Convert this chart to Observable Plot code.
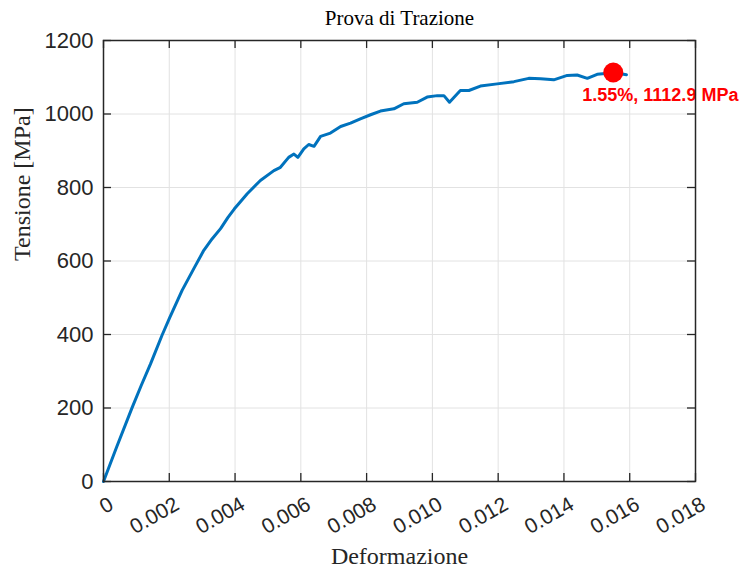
<!DOCTYPE html>
<html>
<head>
<meta charset="utf-8">
<script src="https://cdn.jsdelivr.net/npm/d3@7"></script>
<script src="https://cdn.jsdelivr.net/npm/@observablehq/plot@0.6"></script>
<style>
  html, body { margin: 0; padding: 0; background: #fff; }
</style>
</head>
<body>
<div id="chart"></div>
<script>
// ---- data ----
const strain = [0, 0.0004, 0.00087, 0.00115, 0.00143, 0.00178, 0.00201, 0.00239, 0.00275, 0.00305, 0.00330, 0.00356, 0.00378, 0.00398, 0.00415, 0.00437, 0.00477, 0.00518, 0.00538, 0.00563, 0.00579, 0.00591, 0.00609, 0.00624, 0.00640, 0.00660, 0.00690, 0.00721, 0.00751, 0.00781, 0.00812, 0.00842, 0.00883, 0.00913, 0.00954, 0.00984, 0.01015, 0.01035, 0.01052, 0.01085, 0.01111, 0.01146, 0.01197, 0.01248, 0.01293, 0.01329, 0.01369, 0.01410, 0.01440, 0.01471, 0.01501, 0.01526, 0.0155, 0.0159];
const stress = [0, 94, 201, 262, 320, 398, 445, 520, 580, 629, 660, 688, 718, 742, 760, 783, 819, 846, 855, 882, 891, 882, 905, 917, 912, 939, 948, 966, 975, 987, 998, 1008, 1014, 1028, 1032, 1046, 1050, 1050, 1032, 1064, 1064, 1076, 1082, 1088, 1097, 1096, 1093, 1105, 1106, 1097, 1108, 1110, 1112.9, 1107];
const peakStrain = [0.0155];
const peakStress = [1112.9];
const peakLabels = ["1.55%, 1112.9 MPa"];
const xTicks = [0, 0.002, 0.004, 0.006, 0.008, 0.010, 0.012, 0.014, 0.016, 0.018];
const yTicks = [0, 200, 400, 600, 800, 1000, 1200];
const titleText = ["Prova di Trazione"];
const xLabel = ["Deformazione"];
const yLabel = ["Tensione [MPa]"];

const curve = strain.map((x, i) => ({x, y: stress[i]}));
const peak = peakStrain.map((x, i) => ({x, y: peakStress[i], label: peakLabels[i]}));

const W = 745, H = 572, ML = 103, MR = 50, MT = 40, MB = 91;
const innerW = W - ML - MR, innerH = H - MT - MB;
const tickLen = 8;
const axisColor = "#262626";
const sans = "'Liberation Sans', Arial, Helvetica, sans-serif";
const serif = "'Liberation Serif', 'Times New Roman', serif";

const chart = Plot.plot({
  width: W,
  height: H,
  marginLeft: ML,
  marginRight: MR,
  marginTop: MT,
  marginBottom: MB,
  style: {background: "#fff", overflow: "visible"},
  x: {domain: [0, 0.018]},
  y: {domain: [0, 1200]},
  marks: [
    Plot.gridX(xTicks, {stroke: "#e2e2e2", strokeOpacity: 1, strokeWidth: 1}),
    Plot.gridY(yTicks, {stroke: "#e2e2e2", strokeOpacity: 1, strokeWidth: 1}),
    Plot.line(curve, {x: "x", y: "y", stroke: "#0072BD", strokeWidth: 3, strokeLinejoin: "round"}),
    Plot.dot(peak, {x: "x", y: "y", r: 10, fill: "#ff0000", stroke: "none"}),
    Plot.text(peak, {x: "x", y: "y", text: "label", dx: -31, dy: 28, textAnchor: "start", lineAnchor: "bottom",
      fill: "#ff0000", fontWeight: "bold", fontSize: 18, fontFamily: sans}),
    Plot.frame({stroke: axisColor, strokeWidth: 1.5}),
    // inward ticks on all four sides
    Plot.tickX(xTicks, {x: d => d, insetTop: innerH - tickLen, stroke: axisColor, strokeWidth: 1.3}),
    Plot.tickX(xTicks, {x: d => d, insetBottom: innerH - tickLen, stroke: axisColor, strokeWidth: 1.3}),
    Plot.tickY(yTicks, {y: d => d, insetRight: innerW - tickLen, stroke: axisColor, strokeWidth: 1.3}),
    Plot.tickY(yTicks, {y: d => d, insetLeft: innerW - tickLen, stroke: axisColor, strokeWidth: 1.3}),
    Plot.axisX({ticks: xTicks, tickSize: 0, tickRotate: -30, tickPadding: 21, dx: 8,
      tickFormat: d => d === 0 ? "0" : d.toFixed(3), label: null,
      fontSize: 21, fontFamily: sans, fill: axisColor}),
    Plot.axisY({ticks: yTicks, tickSize: 0, tickPadding: 10, tickFormat: d => String(d), label: null,
      fontSize: 22, fontFamily: sans, fill: axisColor}),
    Plot.text(titleText, {text: d => d, frameAnchor: "top", dy: -22, lineAnchor: "middle",
      fontSize: 21, fontFamily: serif, fill: "#000"}),
    Plot.text(xLabel, {text: d => d, frameAnchor: "bottom", dy: 75, lineAnchor: "middle",
      fontSize: 24, fontFamily: serif, fill: axisColor}),
    Plot.text(yLabel, {text: d => d, frameAnchor: "left", dx: -81, rotate: -90, lineAnchor: "middle",
      fontSize: 24, fontFamily: serif, fill: axisColor})
  ]
});

document.getElementById("chart").appendChild(chart);
</script>
</body>
</html>
